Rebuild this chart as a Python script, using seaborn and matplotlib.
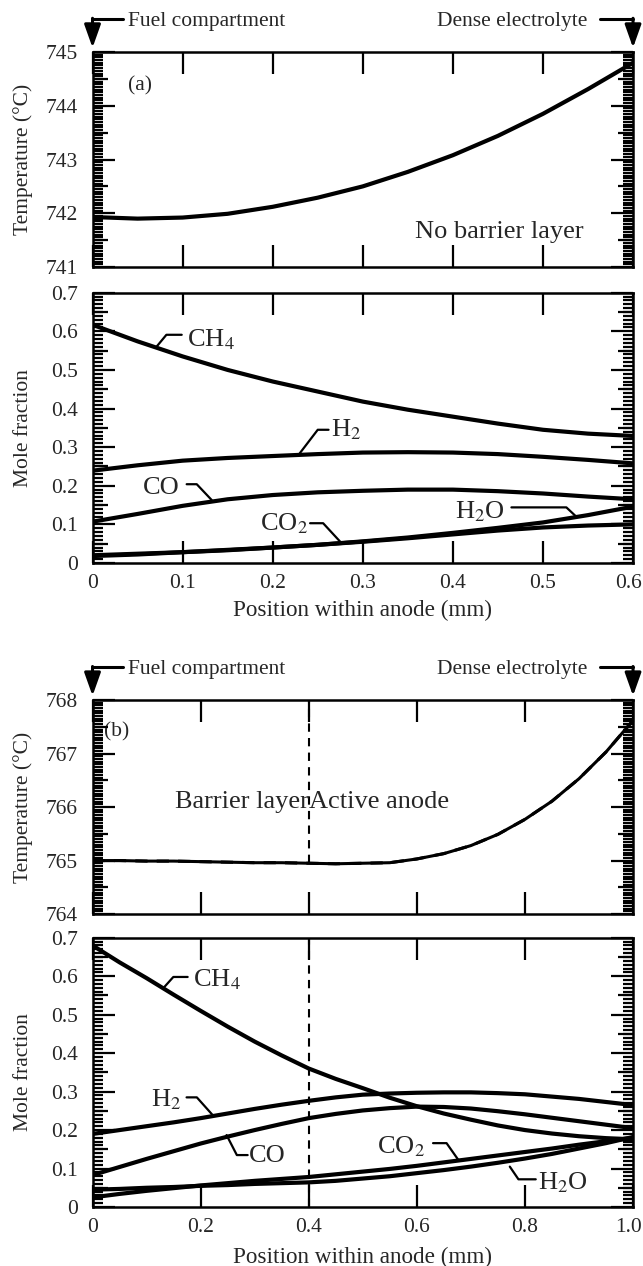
import matplotlib
matplotlib.use('Agg')
import matplotlib.pyplot as plt
from matplotlib.ticker import MultipleLocator, FixedLocator
from matplotlib.transforms import ScaledTranslation
import seaborn as sns

# ---------------- data ----------------
# Panel (a): no barrier layer, anode 0.6 mm
xa_temp = [0.0, 0.05, 0.1, 0.15, 0.2, 0.25, 0.3, 0.35, 0.4, 0.45, 0.5, 0.55, 0.6]
temp_a = [741.93, 741.90, 741.92, 741.99, 742.12, 742.29, 742.50, 742.77, 743.08, 743.44, 743.85, 744.31, 744.80]

xa = [0.0, 0.05, 0.1, 0.15, 0.2, 0.25, 0.3, 0.35, 0.4, 0.45, 0.5, 0.55, 0.6]
ch4_a = [0.617, 0.574, 0.535, 0.500, 0.470, 0.444, 0.418, 0.397, 0.379, 0.361, 0.345, 0.335, 0.329]
h2_a = [0.239, 0.253, 0.265, 0.272, 0.277, 0.282, 0.286, 0.287, 0.286, 0.282, 0.275, 0.267, 0.258]
co_a = [0.107, 0.127, 0.148, 0.165, 0.176, 0.183, 0.187, 0.190, 0.190, 0.186, 0.180, 0.172, 0.165]
co2_a = [0.018, 0.022, 0.028, 0.033, 0.040, 0.047, 0.055, 0.064, 0.074, 0.084, 0.092, 0.097, 0.100]
h2o_a = [0.020, 0.024, 0.028, 0.034, 0.040, 0.047, 0.056, 0.066, 0.078, 0.091, 0.105, 0.124, 0.146]

# Panel (b): barrier layer (0-0.4 mm) + active anode, 1.0 mm
xb = [0.0, 0.05, 0.1, 0.15, 0.2, 0.25, 0.3, 0.35, 0.4, 0.45, 0.5,
      0.55, 0.6, 0.65, 0.7, 0.75, 0.8, 0.85, 0.9, 0.95, 1.0]
temp_b = [765.00, 765.00, 764.99, 764.99, 764.98, 764.97, 764.96, 764.96, 764.95, 764.94, 764.95,
          764.96, 765.03, 765.13, 765.28, 765.49, 765.77, 766.11, 766.53, 767.03, 767.62]
ch4_b = [0.680, 0.636, 0.595, 0.552, 0.510, 0.469, 0.430, 0.394, 0.360, 0.333, 0.309,
         0.284, 0.262, 0.243, 0.227, 0.212, 0.200, 0.191, 0.184, 0.179, 0.176]
h2_b = [0.190, 0.200, 0.210, 0.220, 0.231, 0.243, 0.255, 0.266, 0.276, 0.285, 0.292,
        0.295, 0.297, 0.298, 0.298, 0.296, 0.293, 0.287, 0.281, 0.273, 0.265]
co_b = [0.083, 0.104, 0.125, 0.145, 0.165, 0.183, 0.200, 0.216, 0.231, 0.242, 0.251,
        0.257, 0.261, 0.260, 0.256, 0.249, 0.241, 0.232, 0.223, 0.214, 0.205]
co2_b = [0.025, 0.034, 0.042, 0.049, 0.056, 0.062, 0.068, 0.073, 0.078, 0.085, 0.092,
         0.099, 0.107, 0.116, 0.125, 0.134, 0.143, 0.152, 0.162, 0.171, 0.180]
h2o_b = [0.045, 0.047, 0.050, 0.052, 0.055, 0.057, 0.060, 0.062, 0.064, 0.068, 0.074,
         0.080, 0.088, 0.096, 0.105, 0.115, 0.126, 0.138, 0.152, 0.166, 0.182]

barrier_x = 0.4

xticks_a = [0.0, 0.1, 0.2, 0.3, 0.4, 0.5, 0.6]
xticklabels_a = ['0', '0.1', '0.2', '0.3', '0.4', '0.5', '0.6']
xticks_b = [0.0, 0.2, 0.4, 0.6, 0.8, 1.0]
xticklabels_b = ['0', '0.2', '0.4', '0.6', '0.8', '1.0']
mole_ticks = [0, 0.1, 0.2, 0.3, 0.4, 0.5, 0.6, 0.7]
mole_ticklabels = ['0', '0.1', '0.2', '0.3', '0.4', '0.5', '0.6', '0.7']
temp_ticks_a = [741, 742, 743, 744, 745]
temp_ticks_b = [764, 765, 766, 767, 768]

# ---------------- style ----------------
sns.set_theme(style='ticks')
plt.rcParams['font.family'] = ['Liberation Serif', 'DejaVu Serif']
plt.rcParams['mathtext.fontset'] = 'stix'
plt.rcParams['font.size'] = 15.5
plt.rcParams['axes.linewidth'] = 1.8
FS = 15.5
FS_XL = 16.7
FS_NOTE = 19
LW = 3.0

fig = plt.figure(figsize=(6.43, 12.66), dpi=100)
L, W = 0.1439, 0.8406
ax_ta = fig.add_axes([L, 0.7891, W, 0.1698])
ax_ma = fig.add_axes([L, 0.5553, W, 0.2135])
ax_tb = fig.add_axes([L, 0.2780, W, 0.1690])
ax_mb = fig.add_axes([L, 0.0466, W, 0.2127])


def style(ax, xmax, xticks, xlabels, yticks, ylabels, yminor, show_x):
    ax.set_xlim(0, xmax)
    ax.set_ylim(yticks[0], yticks[-1])
    # medium-length ticks halfway between major ticks (both sides), via a twin axis
    tw = ax.twinx()
    tw.set_ylim(ax.get_ylim())
    mids = [(a + b) / 2 for a, b in zip(yticks[:-1], yticks[1:])]
    tw.yaxis.set_major_locator(FixedLocator(mids))
    tw.tick_params(axis='y', which='major', direction='in', left=True, right=True,
                   labelleft=False, labelright=False, length=11, width=1.6,
                   color='black')
    tw.tick_params(axis='y', which='minor', left=False, right=False)
    for s in tw.spines.values():
        s.set_visible(False)

    ax.set_xticks(xticks)
    ax.set_yticks(yticks)
    ax.set_yticklabels(ylabels, fontsize=FS)
    ax.yaxis.set_minor_locator(MultipleLocator(yminor))
    ax.tick_params(which='both', direction='in', top=True, right=True,
                   bottom=True, left=True, labelright=False, labeltop=False,
                   width=1.6, color='black')
    ax.tick_params(axis='x', which='minor', top=False, bottom=False)
    ax.tick_params(which='major', length=16)
    ax.tick_params(which='minor', length=7)
    ax.tick_params(axis='y', pad=10.5)
    ax.tick_params(axis='x', pad=8)
    if show_x:
        ax.set_xticklabels(xlabels, fontsize=FS)
        last = ax.get_xticklabels()[-1]
        last.set_transform(last.get_transform() +
                           ScaledTranslation(-3 / 72, 0, fig.dpi_scale_trans))
    else:
        ax.set_xticklabels([])
    for s in ax.spines.values():
        s.set_linewidth(1.8)
        s.set_color('black')
    ax.set_xlabel('')
    ax.set_ylabel('')


def curve(ax, x, y, lw=LW, ls='-'):
    sns.lineplot(x=x, y=y, ax=ax, color='black', lw=lw, linestyle=ls,
                 estimator=None, sort=False)


# ---- panel (a) temperature
curve(ax_ta, xa_temp, temp_a)
style(ax_ta, 0.6, xticks_a, xticklabels_a, temp_ticks_a,
      [str(t) for t in temp_ticks_a], 0.05, False)
ax_ta.set_ylabel('Temperature (°C)', fontsize=FS)
ax_ta.text(0.053, 744.37, '(a)', fontsize=FS, ha='center', va='center')
ax_ta.text(0.452, 741.65, 'No barrier layer', fontsize=FS_NOTE, ha='center', va='center')

# ---- panel (a) mole fractions
for ys in (ch4_a, h2_a, co_a, co2_a, h2o_a):
    curve(ax_ma, xa, ys)
style(ax_ma, 0.6, xticks_a, xticklabels_a, mole_ticks, mole_ticklabels, 0.01, True)
ax_ma.set_ylabel('Mole fraction', fontsize=FS)
ax_ma.set_xlabel('Position within anode (mm)', fontsize=FS_XL)

labels_a = [
    ('CH$_4$', (0.105, 0.578), [(0.071, 0.560), (0.082, 0.591), (0.099, 0.591)]),
    ('H$_2$', (0.265, 0.345), [(0.230, 0.284), (0.250, 0.345), (0.262, 0.345)]),
    ('CO', (0.056, 0.195), [(0.1045, 0.204), (0.1157, 0.204), (0.1323, 0.163)]),
    ('CO$_2$', (0.186, 0.103), [(0.2415, 0.103), (0.256, 0.103), (0.275, 0.055)]),
    ('H$_2$O', (0.402, 0.133), [(0.465, 0.144), (0.526, 0.144), (0.537, 0.120)]),
]

# ---- panel (b) temperature
curve(ax_tb, xb, temp_b, lw=2.2)
curve(ax_tb, xb, temp_b, lw=2.2, ls=(0, (4, 3)))
style(ax_tb, 1.0, xticks_b, xticklabels_b, temp_ticks_b,
      [str(t) for t in temp_ticks_b], 0.05, False)
ax_tb.set_ylabel('Temperature (°C)', fontsize=FS)
ax_tb.text(0.045, 767.4, '(b)', fontsize=FS, ha='center', va='center')
ax_tb.text(barrier_x, 766.1, 'Barrier layer', fontsize=FS_NOTE, ha='right', va='center')
ax_tb.text(barrier_x, 766.1, 'Active anode', fontsize=FS_NOTE, ha='left', va='center')
ax_tb.plot([barrier_x, barrier_x], [764.95, 768], color='black', lw=1.5,
           linestyle=(0, (4, 3)))

# ---- panel (b) mole fractions
for ys in (ch4_b, h2_b, co_b, co2_b, h2o_b):
    curve(ax_mb, xb, ys)
style(ax_mb, 1.0, xticks_b, xticklabels_b, mole_ticks, mole_ticklabels, 0.01, True)
ax_mb.set_ylabel('Mole fraction', fontsize=FS)
ax_mb.set_xlabel('Position within anode (mm)', fontsize=FS_XL)
ax_mb.axvline(barrier_x, color='black', lw=1.5, linestyle=(0, (4, 3)))

labels_b = [
    ('CH$_4$', (0.185, 0.590), [(0.131, 0.569), (0.1495, 0.598), (0.176, 0.598)]),
    ('H$_2$', (0.108, 0.280), [(0.174, 0.285), (0.193, 0.285), (0.2235, 0.237)]),
    ('CO', (0.290, 0.133), [(0.248, 0.187), (0.267, 0.135), (0.287, 0.135)]),
    ('CO$_2$', (0.527, 0.157), [(0.630, 0.166), (0.655, 0.166), (0.677, 0.122)]),
    ('H$_2$O', (0.825, 0.062), [(0.772, 0.105), (0.788, 0.072), (0.820, 0.072)]),
]

for ax, labs in ((ax_ma, labels_a), (ax_mb, labels_b)):
    for txt, (tx, ty), pts in labs:
        ax.plot([p[0] for p in pts], [p[1] for p in pts], color='black', lw=1.6)
        ax.text(tx, ty, txt, fontsize=FS_NOTE, ha='left', va='center')

# label positions
for ax in (ax_ta, ax_ma, ax_tb, ax_mb):
    ax.yaxis.set_label_coords(-0.128, 0.5)
    ax.yaxis.label.set_va('center')
ax_ma.xaxis.set_label_coords(0.5, -0.174)
ax_ma.xaxis.label.set_va('center')
ax_mb.xaxis.set_label_coords(0.5, -0.189)
ax_mb.xaxis.label.set_va('center')

# ---- arrows "Fuel compartment" / "Dense electrolyte"
for ax in (ax_ta, ax_tb):
    tr = ax.transAxes
    y_line = 1.153
    y_tip = 1.02
    for xe, xs in ((0.0, 0.057), (1.0, 1.0 - 0.061)):
        ax.plot([xs, xe], [y_line, y_line], color='black', lw=2.2,
                transform=tr, clip_on=False)
        ax.annotate('', xy=(xe, y_tip), xytext=(xe, y_line + 0.004),
                    xycoords=tr, textcoords=tr,
                    arrowprops=dict(arrowstyle='-|>,head_length=0.9,head_width=0.32',
                                    lw=2.2, color='black', shrinkA=0, shrinkB=0))
    ax.text(0.065, 1.143, 'Fuel compartment', transform=tr, fontsize=FS,
            ha='left', va='center')
    ax.text(0.915, 1.143, 'Dense electrolyte', transform=tr, fontsize=FS,
            ha='right', va='center')

fig.savefig('out.png', dpi=100, facecolor='white')
